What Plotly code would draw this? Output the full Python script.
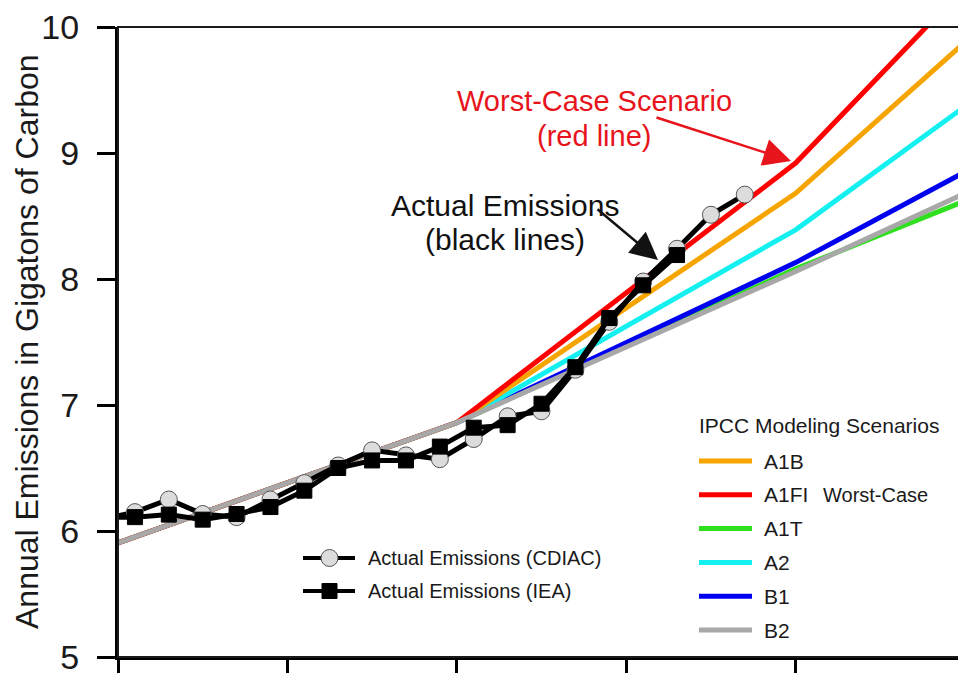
import plotly.graph_objects as go

# ---------------- data ----------------
scenario_names = ["A1B", "A1FI", "A1T", "A2", "B1", "B2"]
scenario_colors = ["#f5a400", "#ff0000", "#2ee01e", "#14f0f0", "#0000f0", "#a8a8a8"]
scenario_years = [1990, 2000, 2010, 2015]
a1b = [5.905, 6.86, 8.68, 9.88]
a1fi = [5.905, 6.86, 8.92, 10.32]
a1t = [5.905, 6.86, 8.08, 8.62]
a2 = [5.905, 6.86, 8.39, 9.37]
b1 = [5.905, 6.86, 8.13, 8.85]
b2 = [5.905, 6.86, 8.06, 8.68]
scenario_values = {"A1B": a1b, "A1FI": a1fi, "A1T": a1t, "A2": a2, "B1": b1, "B2": b2}

cdiac_years = list(range(1989, 2009))
cdiac_values = [6.09, 6.15, 6.25, 6.135, 6.11, 6.25, 6.38, 6.52, 6.64, 6.60,
                6.57, 6.73, 6.91, 6.95, 7.28, 7.66, 7.98, 8.24, 8.51, 8.67]
iea_years = list(range(1989, 2007))
iea_values = [6.11, 6.11, 6.13, 6.09, 6.135, 6.19, 6.32, 6.50, 6.56, 6.56,
              6.67, 6.82, 6.84, 7.01, 7.30, 7.69, 7.95, 8.19]

x_tick_years = [1990, 1995, 2000, 2005, 2010]
y_tick_values = [5, 6, 7, 8, 9, 10]
y_title = "Annual Emissions in Gigatons of Carbon"

# ---------------- layout constants ----------------
# the page body adds an 8px margin, so the figure is made 8px smaller
BODY = 8
FIG_W, FIG_H = 966 - BODY, 673 - BODY
PLOT_L, PLOT_R, PLOT_T, PLOT_B = 118, 965, 27, 657      # in window pixels
ML, MT = PLOT_L - BODY, PLOT_T - BODY
MR, MB = FIG_W - (PLOT_R - BODY), FIG_H - (PLOT_B - BODY)
PW, PH = PLOT_R - PLOT_L, PLOT_B - PLOT_T
FONT = "Liberation Sans, Arial, Helvetica, sans-serif"


def px(xp):
    return (xp - PLOT_L) / PW


def py(yp):
    return (PLOT_B - yp) / PH


fig = go.Figure()

# scenario lines (drawing order so that grey sits over green, red over orange)
draw_order = ["A1T", "B1", "A2", "A1B", "A1FI", "B2"]
for name in draw_order:
    col = scenario_colors[scenario_names.index(name)]
    fig.add_trace(go.Scatter(
        x=scenario_years, y=scenario_values[name], mode="lines", name=name,
        line=dict(color=col, width=5), showlegend=False, hoverinfo="skip"))

# actual emissions (annual totals plotted at mid-year)
fig.add_trace(go.Scatter(
    x=[y + 0.5 for y in cdiac_years], y=cdiac_values, mode="lines+markers",
    name="Actual Emissions (CDIAC)", showlegend=False, cliponaxis=True,
    line=dict(color="black", width=5),
    marker=dict(symbol="circle", size=17, color="#dcdcdc",
                line=dict(color="#555555", width=1))))
fig.add_trace(go.Scatter(
    x=[y + 0.5 for y in iea_years], y=iea_values, mode="lines+markers",
    name="Actual Emissions (IEA)", showlegend=False, cliponaxis=True,
    line=dict(color="black", width=5),
    marker=dict(symbol="square", size=15, color="black",
                line=dict(color="black", width=1))))

shapes = []
annotations = []

# frame (top / right)
shapes.append(dict(type="rect", xref="paper", yref="paper", x0=0, x1=1, y0=0, y1=1,
                   line=dict(color="#1a1a1a", width=2), layer="above"))

# y-axis title
annotations.append(dict(xref="paper", yref="paper", x=px(27), y=0.5,
                        text=y_title, textangle=-90, showarrow=False,
                        xanchor="center", yanchor="middle",
                        font=dict(family=FONT, size=32, color="#1a1a1a")))

# scenario legend
annotations.append(dict(xref="paper", yref="paper", x=px(697), y=py(425),
                        text="IPCC Modeling Scenarios", showarrow=False,
                        xanchor="left", yanchor="middle",
                        font=dict(family=FONT, size=21, color="#1a1a1a")))
for i, (name, col) in enumerate(zip(scenario_names, scenario_colors)):
    yy = 461 + i * 33.8
    shapes.append(dict(type="line", xref="paper", yref="paper",
                       x0=px(699), x1=px(752), y0=py(yy), y1=py(yy),
                       line=dict(color=col, width=5)))
    annotations.append(dict(xref="paper", yref="paper", x=px(762), y=py(yy),
                            text=name, showarrow=False, xanchor="left",
                            yanchor="middle",
                            font=dict(family=FONT, size=21, color="#1a1a1a")))
annotations.append(dict(xref="paper", yref="paper", x=px(821), y=py(461 + 33.8),
                        text="Worst-Case", showarrow=False, xanchor="left",
                        yanchor="middle",
                        font=dict(family=FONT, size=20, color="#1a1a1a")))

# actual-emissions legend
act_labels = ["Actual Emissions (CDIAC)", "Actual Emissions (IEA)"]
for i, lab in enumerate(act_labels):
    yy = 558 + i * 33
    shapes.append(dict(type="line", xref="paper", yref="paper",
                       x0=px(303), x1=px(355), y0=py(yy), y1=py(yy),
                       line=dict(color="black", width=4)))
    if i == 0:
        shapes.append(dict(type="circle", xref="paper", yref="paper",
                           x0=px(321), x1=px(338), y0=py(yy + 8.5), y1=py(yy - 8.5),
                           fillcolor="#dcdcdc", line=dict(color="#555555", width=1)))
    else:
        shapes.append(dict(type="rect", xref="paper", yref="paper",
                           x0=px(322), x1=px(337), y0=py(yy + 7.5), y1=py(yy - 7.5),
                           fillcolor="black", line=dict(color="black", width=1)))
    annotations.append(dict(xref="paper", yref="paper", x=px(366), y=py(yy),
                            text=lab, showarrow=False, xanchor="left",
                            yanchor="middle",
                            font=dict(family=FONT, size=20, color="#1a1a1a")))

# callouts
RED = "#e8141c"
annotations.append(dict(xref="paper", yref="paper", x=px(594), y=py(83),
                        text="Worst-Case Scenario", showarrow=False,
                        font=dict(family=FONT, size=29, color=RED)))
annotations.append(dict(xref="paper", yref="paper", x=px(594), y=py(118),
                        text="(red line)", showarrow=False,
                        font=dict(family=FONT, size=29, color=RED)))
annotations.append(dict(xref="paper", yref="paper", x=px(791), y=py(161), text="",
                        showarrow=True, axref="pixel", ayref="pixel", ax=-136, ay=-44,
                        arrowhead=2, arrowsize=2.2, arrowwidth=2.5, arrowcolor=RED,
                        standoff=0))
annotations.append(dict(xref="paper", yref="paper", x=px(505), y=py(187),
                        text="Actual Emissions", showarrow=False,
                        font=dict(family=FONT, size=30, color="#111111")))
annotations.append(dict(xref="paper", yref="paper", x=px(505), y=py(221),
                        text="(black lines)", showarrow=False,
                        font=dict(family=FONT, size=30, color="#111111")))
annotations.append(dict(xref="paper", yref="paper", x=px(658), y=py(260), text="",
                        showarrow=True, axref="pixel", ayref="pixel", ax=-62, ay=-52,
                        arrowhead=2, arrowsize=2.2, arrowwidth=2.5, arrowcolor="#111111",
                        standoff=0))

fig.update_layout(
    width=FIG_W, height=FIG_H,
    margin=dict(l=ML, r=MR, t=MT, b=MB, pad=0, autoexpand=False),
    paper_bgcolor="white", plot_bgcolor="white",
    font=dict(family=FONT, color="#1a1a1a"),
    showlegend=False,
    shapes=shapes, annotations=annotations,
    xaxis=dict(range=[1990, 2015], tickvals=x_tick_years, showticklabels=False,
               ticks="outside", ticklen=20, tickwidth=3, tickcolor="black",
               showline=True, linewidth=3, linecolor="black", automargin=False,
               showgrid=False, zeroline=False, fixedrange=True),
    yaxis=dict(range=[5, 10], tickvals=y_tick_values, automargin=False,
               ticks="outside", ticklen=18, tickwidth=3, tickcolor="black",
               ticklabelstandoff=11, ticklabeloverflow="allow",
               tickfont=dict(family=FONT, size=34, color="#1a1a1a"),
               showline=True, linewidth=3, linecolor="black",
               showgrid=False, zeroline=False, fixedrange=True),
)

fig.write_html("out.html")
